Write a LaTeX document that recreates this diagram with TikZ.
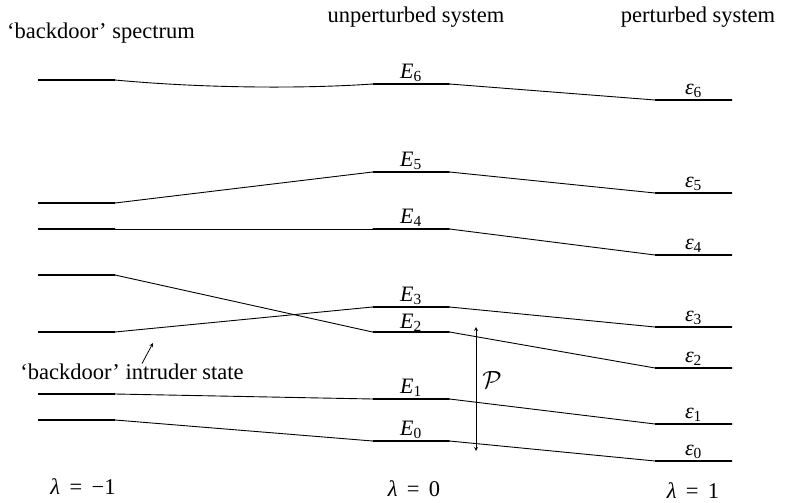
\documentclass[tikz,border=0pt]{standalone}
\usepackage{amsmath,amssymb}
\usepackage{fontspec}
\setmainfont{Liberation Serif}
\usepackage{tikz}
\usetikzlibrary{positioning}
\newcommand{\En}[1]{$\textit{E}_{\textrm{#1}}$}
\newcommand{\epsn}[1]{$\textit{ε}_{\textrm{#1}}$}

\begin{document}
\begin{tikzpicture}[
  x=1pt, y=-1pt,
  level/.style={draw, line width=1.3pt, minimum width=77pt, minimum height=0pt, inner sep=0pt, outer sep=0pt},
  conn/.style={line width=0.9pt},
  head/.style={font=\fontsize{22.5}{26}\selectfont},
  lbl/.style={font=\fontsize{22}{26}\selectfont, inner sep=1pt},
  arr/.style={->, line width=0.8pt, >=stealth}
]
\useasboundingbox (0,0) rectangle (785,503);

% Column headers
\node[head] (hdr_back) at (101,33) {`backdoor' spectrum};
\node[head] (hdr_unp) at (416,17) {unperturbed system};
\node[head] (hdr_per) at (698,17) {perturbed system};

% Backdoor levels (lambda = -1)
\node[level] (a6) at (76.5,80) {};
\node[level] (a5) at (76.5,203) {};
\node[level] (a4) at (76.5,229) {};
\node[level] (a3) at (76.5,275) {};
\node[level] (a2) at (76.5,332) {};
\node[level] (a1) at (76.5,394) {};
\node[level] (a0) at (76.5,420) {};

% Unperturbed levels (lambda = 0)
\node[level] (m6) at (411,84) {};
\node[level] (m5) at (411,172) {};
\node[level] (m4) at (411,229) {};
\node[level] (m3) at (411,307) {};
\node[level] (m2) at (411,332) {};
\node[level] (m1) at (411,399) {};
\node[level] (m0) at (411,441) {};

% Perturbed levels (lambda = 1)
\node[level] (r6) at (693.5,100) {};
\node[level] (r5) at (693.5,193) {};
\node[level] (r4) at (693.5,255) {};
\node[level] (r3) at (693.5,327) {};
\node[level] (r2) at (693.5,368) {};
\node[level] (r1) at (693.5,424) {};
\node[level] (r0) at (693.5,461) {};

% Level labels
\node[lbl, above=1pt of m6] (lE6) {\En{6}};
\node[lbl, above=1pt of m5] (lE5) {\En{5}};
\node[lbl, above=1pt of m4] (lE4) {\En{4}};
\node[lbl, above=1pt of m3] (lE3) {\En{3}};
\node[lbl, above=-1pt of m2] (lE2) {\En{2}};
\node[lbl, above=1pt of m1] (lE1) {\En{1}};
\node[lbl, above=1pt of m0] (lE0) {\En{0}};
\node[lbl, above=1pt of r6] (le6) {\epsn{6}};
\node[lbl, above=1pt of r5] (le5) {\epsn{5}};
\node[lbl, above=1pt of r4] (le4) {\epsn{4}};
\node[lbl, above=1pt of r3] (le3) {\epsn{3}};
\node[lbl, above=1pt of r2] (le2) {\epsn{2}};
\node[lbl, above=1pt of r1] (le1) {\epsn{1}};
\node[lbl, above=1pt of r0] (le0) {\epsn{0}};

% Left to middle
\draw[conn] (a6.east) .. controls (200,88) and (300,89) .. (m6.west);
\draw[conn] (a5.east) -- (m5.west);
\draw[conn] (a4.east) -- (m4.west);
\draw[conn] (a3.east) -- (m2.west);
\draw[conn] (a2.east) -- (m3.west);
\draw[conn] (a1.east) -- (m1.west);
\draw[conn] (a0.east) -- (m0.west);

% Middle to right
\draw[conn] (m6.east) -- (r6.west);
\draw[conn] (m5.east) -- (r5.west);
\draw[conn] (m4.east) -- (r4.west);
\draw[conn] (m3.east) -- (r3.west);
\draw[conn] (m2.east) -- (r2.west);
\draw[conn] (m1.east) -- (r1.west);
\draw[conn] (m0.east) -- (r0.west);

% Perturbation arrow
\coordinate (p_top) at (476,327);
\coordinate (p_bot) at (476,451);
\draw[arr, <->] (p_bot) -- (p_top);
\node[lbl, font=\fontsize{27}{30}\selectfont] (p_lbl) at (492,380) {$\mathcal{P}$};

% Intruder state
\node[head] (intr) at (132,372) {`backdoor' intruder state};
\coordinate (intr_tip) at (153,343);
\draw[arr] ([xshift=10pt,yshift=-3pt]intr.north) -- (intr_tip);

% Lambda values
\node[head] (lam_m1) at (83,487) {\textit{λ}\, = \,−1};
\node[head] (lam_0) at (414,489) {\textit{λ}\, = \,0};
\node[head] (lam_1) at (693,491) {\textit{λ}\, = \,1};
\end{tikzpicture}
\end{document}
